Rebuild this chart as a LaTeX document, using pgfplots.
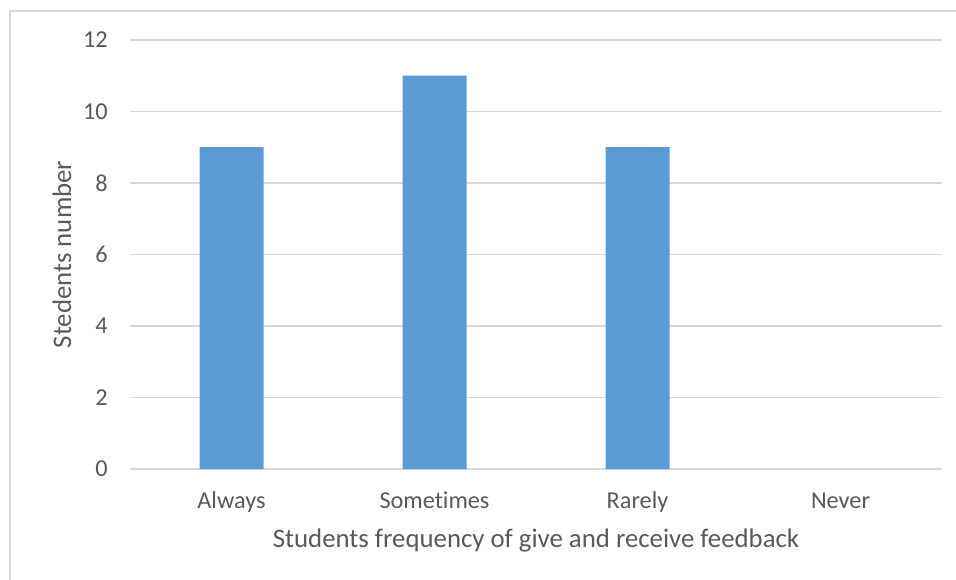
\documentclass[border=0pt]{standalone}
\usepackage{fontspec}
\setmainfont[Ligatures=NoCommon]{Carlito}
\usepackage{pgfplots}
\pgfplotsset{compat=1.18}

\definecolor{barblue}{HTML}{5B9BD5}
\definecolor{gridgray}{HTML}{D9D9D9}
\definecolor{textgray}{HTML}{595959}

\begin{document}
\begin{tikzpicture}
  % light outer frame of the chart area
  \draw[gridgray, line width=1.1pt] (7.5pt,-10pt) -- (7.5pt,426pt) -- (730pt,426pt);
  \begin{axis}[
    at={(97.5pt,82.5pt)}, anchor=south west,
    scale only axis,
    width=609pt, height=321.75pt,
    xmin=-0.5, xmax=3.5,
    ymin=0, ymax=12,
    ytick={0,2,...,12},
    xtick={0,1,2,3},
    xticklabels={Always, Sometimes, Rarely, Never},
    axis line style={draw=none},
    tick style={draw=none},
    ymajorgrids,
    grid style={gridgray, line width=0.8pt},
    ybar, bar width=48pt,
    tick label style={font=\fontsize{18.2}{21}\selectfont, text=textgray},
    /pgf/number format/assume math mode=true,
    xticklabel style={anchor=base, yshift=-25.5pt},
    yticklabel style={anchor=east, inner sep=0pt, xshift=-16.5pt},
    label style={font=\fontsize{20.1}{23}\selectfont, text=textgray},
    xlabel={Students frequency of give and receive feedback},
    ylabel={Stedents number},
    xlabel style={at={(axis description cs:0.5,-0.167)}, anchor=center},
    ylabel style={at={(axis description cs:-0.0837,0.5)}, anchor=center},
  ]
    % Always, Sometimes, Rarely (Never has no responses)
    \addplot[fill=barblue, draw=none] coordinates {(0,9) (1,11) (2,9)};
  \end{axis}
  \pgfresetboundingbox
  \useasboundingbox (0,0) rectangle (717pt,434.25pt);
\end{tikzpicture}
\end{document}
